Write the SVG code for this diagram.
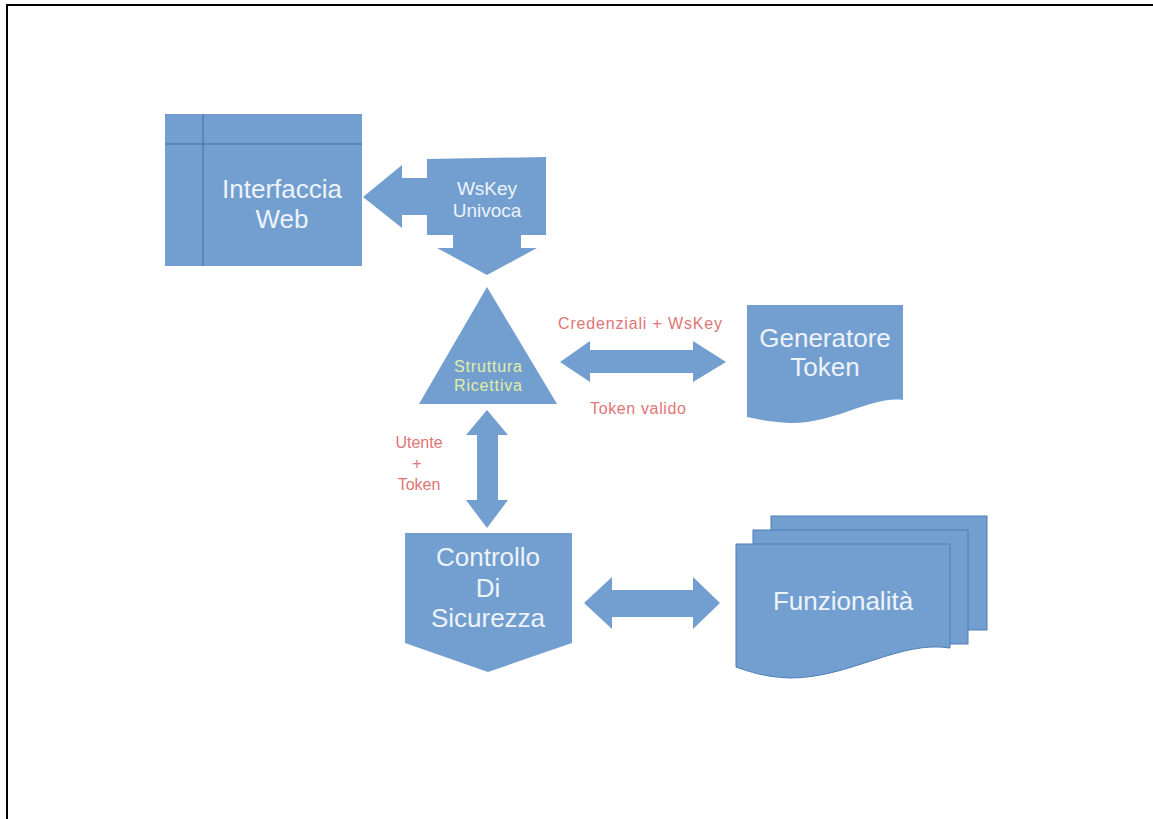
<svg xmlns="http://www.w3.org/2000/svg" width="1153" height="819" viewBox="0 0 1153 819">
<style>
.shape{fill:#729fcf;}
.sheet{fill:#729fcf;stroke:#4f7fb8;stroke-width:1;}
.inner{stroke:#3f6fa8;stroke-width:1;fill:none;}
.lbl{font-family:"Liberation Sans",Arial,sans-serif;fill:#eef3fb;text-anchor:middle;}
.big{font-size:26px;}
.mid{font-size:19px;}
.tri{font-family:"Liberation Sans",Arial,sans-serif;fill:#e2eea6;text-anchor:middle;font-size:16px;}
.red{font-family:"Liberation Sans",Arial,sans-serif;fill:#e07575;text-anchor:middle;font-size:16px;}
.frame{stroke:#000;stroke-width:2;fill:none;}
</style>
<rect width="1153" height="819" fill="#fff"/>
<path class="frame" d="M7,819 V5 H1153"/>

<g id="interfaccia-web">
<rect class="shape" x="165" y="114" width="197" height="152"/>
<line class="inner" x1="203" y1="114" x2="203" y2="266"/>
<line class="inner" x1="165" y1="144" x2="362" y2="144"/>
<text class="lbl big" x="282" y="198">Interfaccia</text>
<text class="lbl big" x="282" y="228">Web</text>
</g>

<g id="wskey-univoca">
<path class="shape" d="M427,159 L546,157 L546,235 L521,235 L521,248 L537,248 L487,275 L437,248 L453,248 L453,235 L427,235 L427,215 L402,215 L402,228 L363,197 L402,165 L402,178 L427,178 Z"/>
<text class="lbl mid" x="487" y="195">WsKey</text>
<text class="lbl mid" x="487" y="217">Univoca</text>
</g>

<g id="struttura-ricettiva">
<path class="shape" d="M487,287 L557,404 L419,404 Z"/>
<text class="tri" x="488" y="372" textLength="68" lengthAdjust="spacing">Struttura</text>
<text class="tri" x="488" y="391" textLength="68" lengthAdjust="spacing">Ricettiva</text>
</g>

<g id="generatore-token">
<path class="shape" d="M747,305 H903 V400 C870,396 835,424 790,423 C770,422 757,419 747,417 Z"/>
<text class="lbl big" x="825" y="347">Generatore</text>
<text class="lbl big" x="825" y="376">Token</text>
</g>

<g id="controllo-sicurezza">
<path class="shape" d="M405,533 H572 V643 L488,672 L405,643 Z"/>
<text class="lbl big" x="488" y="566">Controllo</text>
<text class="lbl big" x="488" y="597">Di</text>
<text class="lbl big" x="488" y="627">Sicurezza</text>
</g>

<g id="funzionalita">
<rect class="sheet" x="771" y="516" width="216" height="114"/>
<rect class="sheet" x="753" y="530" width="215" height="114"/>
<path class="sheet" d="M736,544 H950 V648 C900,640 850,678 790,678 C765,677 750,672 736,667 Z"/>
<text class="lbl big" x="843" y="610">Funzionalità</text>
</g>

<g id="connectors">
<path class="shape" d="M560,362 L590,341 L590,350 L693,350 L693,341 L726,362 L693,382 L693,373 L590,373 L590,382 Z"/>
<path class="shape" d="M487,410 L508,435 L498,435 L498,500 L508,500 L487,528 L466,500 L477,500 L477,435 L466,435 Z"/>
<path class="shape" d="M584,603 L612,577 L612,590 L693,590 L693,577 L720,603 L693,629 L693,617 L612,617 L612,629 Z"/>
<text class="red" x="640" y="329" textLength="164" lengthAdjust="spacing">Credenziali + WsKey</text>
<text class="red" x="638" y="414" textLength="96" lengthAdjust="spacing">Token valido</text>
<text class="red" x="419" y="448">Utente</text>
<text class="red" x="417" y="469">+</text>
<text class="red" x="419" y="490">Token</text>
</g>
</svg>
